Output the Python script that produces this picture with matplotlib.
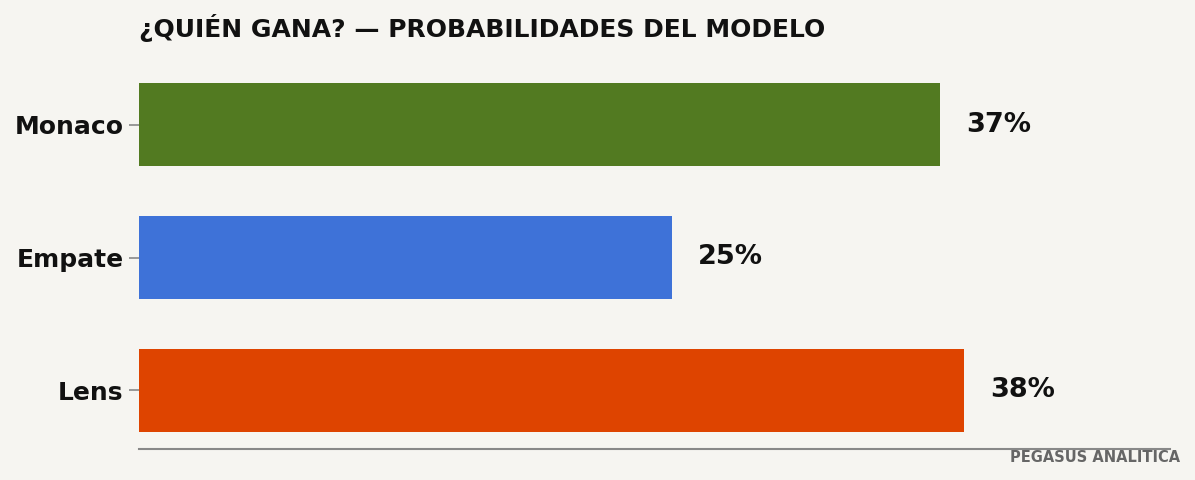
import matplotlib.pyplot as plt
import numpy as np

# datos del modelo (probabilidades en %)
teams = ['Monaco', 'Empate', 'Lens']
probs = [37.1, 24.7, 38.2]
colors = ['#527a21', '#3e72d8', '#de4400']

bg = '#f6f5f1'

fig = plt.figure(figsize=(11.95, 4.8), dpi=100, facecolor=bg)
ax = fig.add_axes([139 / 1195, 1 - 449 / 480, (1170 - 139) / 1195, (449 - 66) / 480])
ax.set_facecolor(bg)

y = np.arange(len(teams))
ax.barh(y, probs, height=0.62, color=colors)
ax.invert_yaxis()
ax.set_xlim(0, max(probs) * 1.25)

# etiquetas de valor al final de cada barra
for yi, p in zip(y, probs):
    ax.text(p + 1.2, yi, f'{p:.0f}%', va='center', ha='left',
            fontsize=19.5, fontweight='bold', color='#111111')

ax.set_yticks(y)
ax.set_yticklabels(teams, fontsize=18, fontweight='bold', color='#111111')
ax.tick_params(axis='y', length=7, width=1.2, color='#888888', pad=4)
ax.set_xticks([])

for s in ['top', 'right', 'left']:
    ax.spines[s].set_visible(False)
ax.spines['bottom'].set_color('#888888')
ax.spines['bottom'].set_linewidth(1.5)

ax.set_title('¿QUIÉN GANA? — PROBABILIDADES DEL MODELO', loc='left',
             fontsize=18, fontweight='bold', color='#111111', pad=21)

fig.text(1180 / 1195, 1 - 458 / 480, 'PEGASUS ANALITICA', ha='right', va='center',
         fontsize=10.5, fontweight='bold', color='#666666')

fig.savefig('out.png', dpi=100, facecolor=bg)
